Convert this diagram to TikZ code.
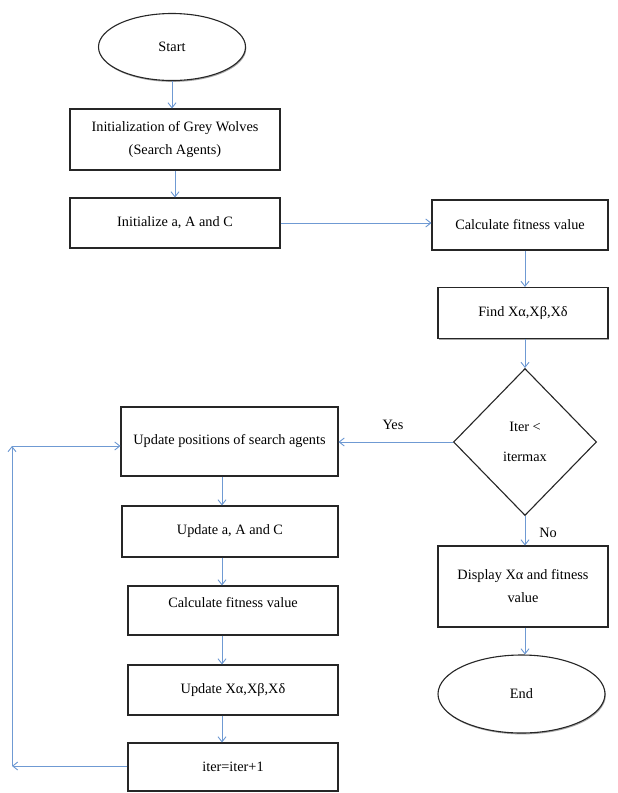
\documentclass[tikz,border=0pt]{standalone}
\usepackage{fontspec}
\setmainfont{Liberation Serif}
\usetikzlibrary{shapes.geometric,arrows.meta,shadows}
\definecolor{arrowblue}{HTML}{6F9AD3}
\begin{document}
\begin{tikzpicture}[x=1pt,y=-1pt,
  font=\fontsize{14.3}{23}\selectfont,
  shade/.style={drop shadow={fill=gray!70,opacity=1,shadow xshift=0.8pt,shadow yshift=-1.4pt}},
  box/.style={draw=black!85,fill=white,line width=1.1pt,rectangle,align=center,inner sep=2pt,shade},
  term/.style={draw=black!85,fill=white,line width=1.1pt,ellipse,inner sep=0pt,shade},
  decision/.style={draw=black!85,fill=white,line width=1.1pt,diamond,inner sep=0pt,align=center},
  flow/.style={draw=arrowblue,line width=0.9pt,-{Straight Barb[length=5pt,width=8pt]}},
  lbl/.style={inner sep=0pt}]
\fill[white] (0,0) rectangle (618,793);
\useasboundingbox (0,0) rectangle (618,793);

% right/top column
\node[term,minimum width=147pt,minimum height=67pt] (start) at (172,47) {Start};
\node[box,minimum width=210pt,minimum height=61pt] (init) at (175,139.5) {Initialization of Grey Wolves\\(Search Agents)};
\node[box,minimum width=210pt,minimum height=50pt] (initA) at (175,223) {Initialize a, A and C};
\node[box,minimum width=176pt,minimum height=50pt] (calc1) at (520,225) {Calculate fitness value};
\node[box,minimum width=170pt,minimum height=51pt] (find) at (523,313) {Find Xα,Xβ,Xδ};
\node[decision,minimum width=143pt,minimum height=147pt] (dec) at (525,442) {Iter <\\[7pt]itermax};
\node[box,minimum width=170pt,minimum height=81pt] (disp) at (523,586.5) {Display Xα and fitness\\value};
\node[term,minimum width=167pt,minimum height=78pt] (end) at (521.5,694) {End};

% left column
\node[box,minimum width=217pt,minimum height=69pt] (upd) at (229.5,441.5) {Update positions of search agents};
\node[box,minimum width=216pt,minimum height=51pt] (updA) at (230,531.5) {Update a, A and C};
\node[box,minimum width=210pt,minimum height=49pt] (calc2) at (233,610.5) {\raisebox{16pt}{Calculate fitness value}};
\node[box,minimum width=210pt,minimum height=50pt] (updX) at (233,690) {Update Xα,Xβ,Xδ};
\node[box,minimum width=210pt,minimum height=48pt] (iter) at (233,767) {iter=iter+1};

\coordinate (colx) at (222,0);
\coordinate (lb) at (12,766);
\coordinate (lt) at (12,446);

% labels
\node[lbl] (yes) at (393,425) {Yes};
\node[lbl] (no) at (548,533) {No};

% connectors
\draw[flow] (start.south) -- (start.south |- init.north);
\draw[flow] (init.south) -- (init.south |- initA.north);
\draw[flow] (initA.east) -- (initA.east -| calc1.west);
\draw[flow] (calc1.south -| dec.north) -- (find.north -| dec.north);
\draw[flow] (find.south -| dec.north) -- (dec.north);
\draw[flow] (dec.west) -- (dec.west -| upd.east);
\draw[flow] (dec.south) -- (dec.south |- disp.north);
\draw[flow] (disp.south -| dec.south) -- (end.north -| dec.south);
\draw[flow] (upd.south -| colx) -- (updA.north -| colx);
\draw[flow] (updA.south -| colx) -- (calc2.north -| colx);
\draw[flow] (calc2.south -| colx) -- (updX.north -| colx);
\draw[flow] (updX.south -| colx) -- (iter.north -| colx);
\draw[flow] (iter.west |- lb) -- (lb);
\draw[flow] (lb) -- (lt);
\draw[flow] (lt) -- (lt -| upd.west);
\end{tikzpicture}
\end{document}
